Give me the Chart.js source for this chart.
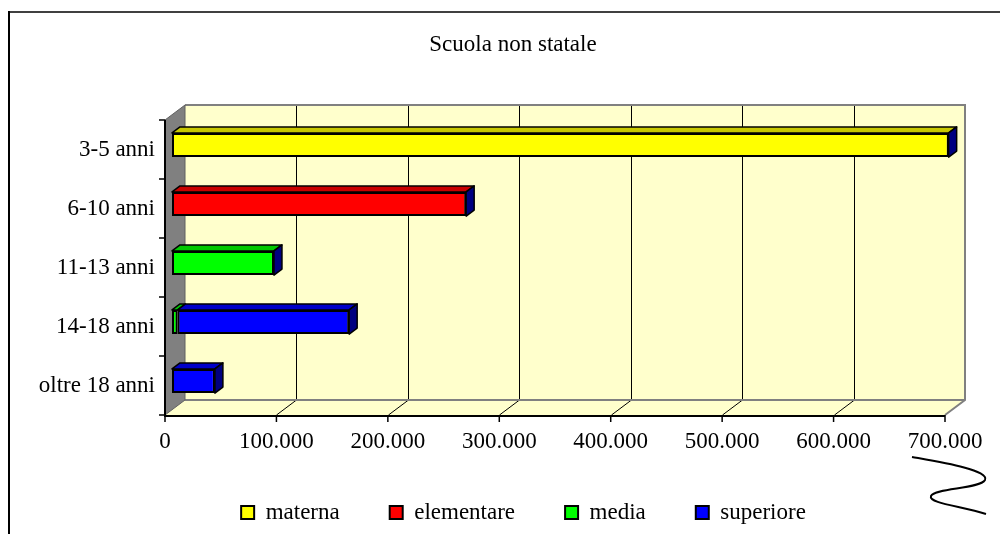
<!DOCTYPE html>
<html><head><meta charset="utf-8">
<script src="https://cdn.jsdelivr.net/npm/chart.js@4.4.1/dist/chart.umd.min.js"></script>
<style>html,body{margin:0;padding:0;background:#fff;}canvas{display:block;}</style>
</head><body>
<canvas id="c" width="1000" height="534"></canvas>
<script>
const categories = ['3-5 anni', '6-10 anni', '11-13 anni', '14-18 anni', 'oltre 18 anni'];
const seriesNames = ['materna', 'elementare', 'media', 'superiore'];
const materna    = [697000, null, null, null, null];
const elementare = [null, 264000, null, null, null];
const media      = [null, null, 91500, 5000, null];
const superiore  = [null, null, null, 154000, 38500];
const xTicks = [0, 100000, 200000, 300000, 400000, 500000, 600000, 700000];
const titleText = 'Scuola non statale';

const frontColors = ['#FFFF00', '#FF0000', '#00FF00', '#0000FF'];
const topColors = ['#C8C800', '#C80000', '#00C800', '#0000C8'];
const sideColor = '#000080';
const FONT = "'Liberation Serif', 'Times New Roman', serif";

function fmt(v) { return String(v).replace(/\B(?=(\d{3})+(?!\d))/g, '.'); }

const DX = 20, DY = -15;      // wall depth
const BDX = 7, BDY = -4.5;    // bar front offset
const DDX = 8, DDY = -6;      // bar depth

const threeD = {
  id: 'threeD',
  afterLayout(chart) {
    const t = chart.titleBlock;
    if (t) { const c = (t.left + t.right) / 2, s = 513 - c; t.left += s; t.right += s; }
    const lg = chart.legend;
    if (lg) { const c = (lg.left + lg.right) / 2, s = 523.5 - c; lg.left += s; lg.right += s; }
  },
  beforeDraw(chart) {
    const ctx = chart.ctx;
    ctx.save();
    ctx.fillStyle = '#fff';
    ctx.fillRect(0, 0, chart.width, chart.height);
    ctx.lineWidth = 2;
    ctx.strokeStyle = '#404040';
    ctx.beginPath(); ctx.moveTo(8, 12); ctx.lineTo(1000, 12); ctx.stroke();
    ctx.strokeStyle = '#000';
    ctx.beginPath(); ctx.moveTo(9, 11); ctx.lineTo(9, 534); ctx.stroke();
    // squiggle
    ctx.lineWidth = 2;
    ctx.beginPath();
    ctx.moveTo(912, 457);
    ctx.bezierCurveTo(940, 462, 990, 470, 985, 480);
    ctx.bezierCurveTo(980, 489, 935, 488, 931, 496);
    ctx.bezierCurveTo(928, 503, 960, 506, 986, 514);
    ctx.stroke();
    ctx.restore();
  },
  beforeDatasetsDraw(chart) {
    const {ctx, chartArea: a, scales: {x}} = chart;
    const L = a.left, R = a.right, T = a.top, B = a.bottom;
    ctx.save();
    ctx.fillStyle = '#FFFFCC';
    ctx.fillRect(L + DX, T + DY, R - L, B - T);
    ctx.beginPath();
    ctx.moveTo(L, B); ctx.lineTo(R, B); ctx.lineTo(R + DX, B + DY); ctx.lineTo(L + DX, B + DY); ctx.closePath();
    ctx.fill();
    ctx.strokeStyle = '#000';
    ctx.lineWidth = 1;
    xTicks.forEach((v, i) => {
      if (i === 0 || i === xTicks.length - 1) return;
      const px = Math.round(x.getPixelForValue(v)) + 0.5;
      ctx.beginPath();
      ctx.moveTo(px + DX, T + DY); ctx.lineTo(px + DX, B + DY);
      ctx.lineTo(px, B);
      ctx.stroke();
    });
    ctx.strokeStyle = '#808080';
    ctx.lineWidth = 2;
    ctx.beginPath();
    ctx.moveTo(L + DX, T + DY); ctx.lineTo(R + DX, T + DY); ctx.lineTo(R + DX, B + DY); ctx.lineTo(R, B);
    ctx.moveTo(L + DX, B + DY); ctx.lineTo(R + DX, B + DY);
    ctx.stroke();
    ctx.fillStyle = '#808080';
    ctx.beginPath();
    ctx.moveTo(L, T); ctx.lineTo(L + DX, T + DY); ctx.lineTo(L + DX, B + DY); ctx.lineTo(L, B); ctx.closePath();
    ctx.fill();
    ctx.strokeStyle = '#606060';
    ctx.lineWidth = 1;
    ctx.stroke();
    ctx.strokeStyle = '#000';
    ctx.lineWidth = 2;
    ctx.beginPath();
    ctx.moveTo(L, T); ctx.lineTo(L, B + 1); ctx.lineTo(R, B + 1);
    ctx.stroke();
    ctx.lineWidth = 1.5;
    const n = categories.length;
    for (let k = 0; k <= n; k++) {
      const yy = T + k * (B - T) / n;
      ctx.beginPath(); ctx.moveTo(L - 6, yy); ctx.lineTo(L, yy); ctx.stroke();
    }
    xTicks.forEach(v => {
      const px = x.getPixelForValue(v);
      ctx.beginPath(); ctx.moveTo(px, B); ctx.lineTo(px, B + 7); ctx.stroke();
    });
    ctx.restore();
    ctx.save();
    ctx.translate(BDX, BDY);
  },
  afterDatasetsDraw(chart) {
    const ctx = chart.ctx;
    ctx.restore();
    ctx.save();
    ctx.translate(BDX, BDY);
    ctx.lineWidth = 1.5;
    ctx.strokeStyle = '#000';
    ctx.lineJoin = 'round';
    const nDs = chart.data.datasets.length;
    const last = categories.map((c, j) => {
      let li = -1;
      for (let i = 0; i < nDs; i++) if (chart.data.datasets[i].data[j] != null) li = i;
      return li;
    });
    for (let i = 0; i < nDs; i++) {
      const meta = chart.getDatasetMeta(i);
      meta.data.forEach((el, j) => {
        if (chart.data.datasets[i].data[j] == null) return;
        const p = el.getProps(['x', 'y', 'base', 'height'], true);
        const x1 = Math.min(p.base, p.x), x2 = Math.max(p.base, p.x);
        const yt = p.y - p.height / 2, yb = p.y + p.height / 2;
        ctx.fillStyle = topColors[i];
        ctx.beginPath();
        ctx.moveTo(x1, yt); ctx.lineTo(x1 + DDX, yt + DDY); ctx.lineTo(x2 + DDX, yt + DDY); ctx.lineTo(x2, yt); ctx.closePath();
        ctx.fill(); ctx.stroke();
        if (last[j] === i) {
          ctx.fillStyle = sideColor;
          ctx.beginPath();
          ctx.moveTo(x2, yt); ctx.lineTo(x2 + DDX, yt + DDY); ctx.lineTo(x2 + DDX, yb + DDY); ctx.lineTo(x2, yb); ctx.closePath();
          ctx.fill(); ctx.stroke();
        }
      });
    }
    ctx.restore();
  }
};

const seriesData = [materna, elementare, media, superiore];
new Chart(document.getElementById('c'), {
  type: 'bar',
  data: {
    labels: categories,
    datasets: seriesNames.map((name, i) => ({
      label: name,
      data: seriesData[i],
      backgroundColor: frontColors[i],
      borderColor: '#000',
      borderWidth: 2,
      borderSkipped: false,
      barPercentage: 0.41,
      categoryPercentage: 1,
      clip: false
    }))
  },
  options: {
    indexAxis: 'y',
    responsive: false,
    animation: false,
    devicePixelRatio: 1,
    layout: { padding: { left: 15, right: 55, top: 0, bottom: 0 } },
    scales: {
      x: {
        stacked: true,
        min: 0, max: 700000,
        afterBuildTicks(scale) { scale.ticks = xTicks.map(v => ({ value: v })); },
        afterFit(scale) { scale.height = 36; },
        grid: { display: false, drawTicks: false },
        border: { display: false },
        ticks: {
          color: '#000',
          padding: 13,
          maxRotation: 0,
          autoSkip: false,
          font: { family: FONT, size: 23 },
          callback: v => fmt(v)
        }
      },
      y: {
        stacked: true,
        afterFit(scale) { scale.width = 150; },
        grid: { display: false, drawTicks: false },
        border: { display: false },
        ticks: { color: '#000', padding: 10, font: { family: FONT, size: 23 } }
      }
    },
    plugins: {
      title: {
        display: true,
        text: titleText,
        color: '#000',
        font: { family: FONT, size: 23, weight: 'normal' },
        padding: { top: 31, bottom: 61.4 }
      },
      legend: {
        display: true,
        position: 'bottom',
        maxHeight: 83,
        labels: {
          color: '#000',
          font: { family: FONT, size: 23 },
          boxWidth: 13,
          boxHeight: 13,
          padding: 50,
          generateLabels(chart) {
            return chart.data.datasets.map((ds, i) => ({
              text: ds.label,
              fillStyle: frontColors[i],
              strokeStyle: '#000',
              lineWidth: 2,
              datasetIndex: i,
              hidden: false
            }));
          }
        }
      },
      tooltip: { enabled: false }
    }
  },
  plugins: [threeD]
});
</script>
</body></html>
